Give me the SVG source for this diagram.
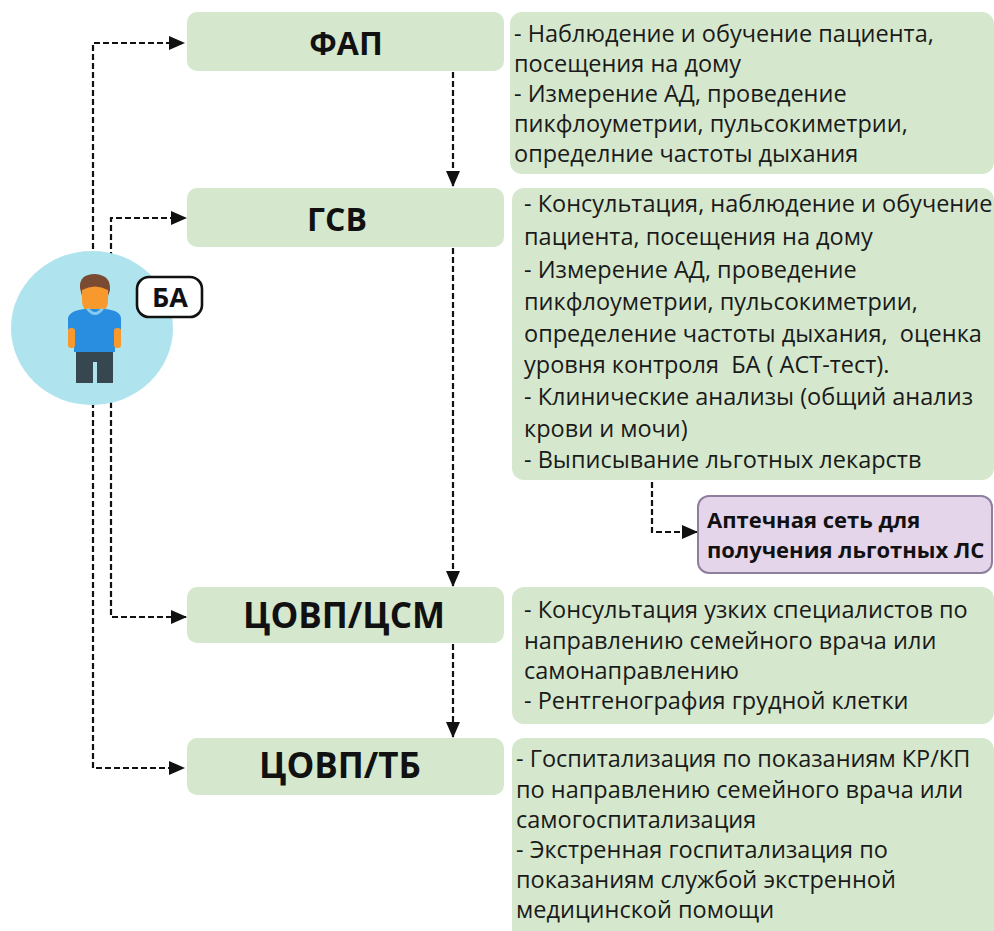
<svg xmlns="http://www.w3.org/2000/svg" width="994" height="931" viewBox="0 0 994 931">
<defs>
<style>
.node{fill:#d5e8cd}
.info{fill:#d5e8cd}
.lbl{font-family:"Open Sans","Noto Sans","DejaVu Sans",sans-serif;font-weight:700;fill:#111;text-anchor:middle}
.txt{font-family:"Open Sans","Noto Sans","DejaVu Sans",sans-serif;font-size:23.5px;fill:#1a1a1a;white-space:pre}
.conn{fill:none;stroke:#111;stroke-width:2.2;stroke-dasharray:6 3;marker-end:url(#arr)}
</style>
<marker id="arr" markerUnits="userSpaceOnUse" markerWidth="16" markerHeight="14" refX="15" refY="7" orient="auto">
<path d="M0,0 L16,7 L0,14 z" fill="#111"/>
</marker>
</defs>
<rect width="994" height="931" fill="#fff"/>
<g id="connectors">
<path class="conn" d="M93,330 V43 H184"/>
<path class="conn" d="M111,330 V218 H186"/>
<path class="conn" d="M93,330 V768 H184"/>
<path class="conn" d="M111,330 V617 H186"/>
<path class="conn" d="M453,72 V186"/>
<path class="conn" d="M453,248 V586"/>
<path class="conn" d="M453,644 V737"/>
<path class="conn" d="M652,482 V532 H697"/>
</g>
<g id="patient">
<ellipse cx="92" cy="328" rx="81" ry="77" fill="#afe4ee"/>
<path d="M80,288 Q79,274 95,274 Q111,275 110,290 L108,296 L82,296 Z" fill="#7b4a32"/>
<path d="M82,290 Q95,283 108,290 L108,300 Q108,313 95,314 Q82,313 82,300 Z" fill="#f7992c"/>
<path d="M68,318 Q70,310 86,309 L104,309 Q120,310 121,318 L121,330 L115,330 L115,352 L74,352 L74,330 L68,330 Z" fill="#2a8ee0"/>
<path d="M86,309 Q95,321 104,309 L101,308 Q95,316 89,308 Z" fill="#85c9ef"/>
<rect x="68" y="328" width="7" height="20" rx="3" fill="#f7992c"/>
<rect x="114" y="328" width="7" height="20" rx="3" fill="#f7992c"/>
<path d="M76,352 H113 V383 H97 V362 H93 V383 H76 Z" fill="#37474f"/>
</g>
<g id="ba-tag">
<rect x="137" y="277" width="65" height="40" rx="12" fill="#fff" stroke="#111" stroke-width="2.6"/>
<text x="170" y="307" class="lbl" font-size="27">БА</text>
</g>
<g id="fap">
<rect class="node" x="187" y="12" width="317" height="59" rx="10"/>
<text x="346" y="55" class="lbl" font-size="32">ФАП</text>
</g>
<g id="gsv">
<rect class="node" x="187" y="188" width="317" height="59" rx="10"/>
<text x="337" y="231" class="lbl" font-size="32">ГСВ</text>
</g>
<g id="covp-csm">
<rect class="node" x="187" y="587" width="317" height="56" rx="10"/>
<text x="344" y="628" class="lbl" font-size="35">ЦОВП/ЦСМ</text>
</g>
<g id="covp-tb">
<rect class="node" x="187" y="738" width="317" height="57" rx="10"/>
<text x="340" y="778" class="lbl" font-size="35">ЦОВП/ТБ</text>
</g>
<g id="info-fap">
<rect class="info" x="510" y="12" width="484" height="162" rx="12"/>
<text class="txt"><tspan x="514" y="42">- Наблюдение и обучение пациента,</tspan><tspan x="514" y="72">посещения на дому</tspan><tspan x="514" y="102">- Измерение АД, проведение</tspan><tspan x="514" y="132">пикфлоуметрии, пульсокиметрии,</tspan><tspan x="514" y="162">определние частоты дыхания</tspan></text>
</g>
<g id="info-gsv">
<rect class="info" x="512" y="188" width="482" height="292" rx="12"/>
<text class="txt"><tspan x="524" y="212">- Консультация, наблюдение и обучение</tspan><tspan x="524" y="245">пациента, посещения на дому</tspan><tspan x="524" y="278">- Измерение АД, проведение</tspan><tspan x="524" y="310">пикфлоуметрии, пульсокиметрии,</tspan><tspan x="524" y="342">определение частоты дыхания,  оценка</tspan><tspan x="524" y="373">уровня контроля  БА ( АСТ-тест).</tspan><tspan x="524" y="405">- Клинические анализы (общий анализ</tspan><tspan x="524" y="437">крови и мочи)</tspan><tspan x="524" y="468">- Выписывание льготных лекарств</tspan></text>
</g>
<g id="pharmacy">
<rect x="698" y="496" width="294" height="77" rx="11" fill="#e4d5eb" stroke="#8f7f9e" stroke-width="2"/>
<text font-family="Open Sans, Noto Sans, DejaVu Sans, sans-serif" font-weight="700" font-size="22" fill="#111"><tspan x="707" y="528">Аптечная сеть для</tspan><tspan x="707" y="558">получения льготных ЛС</tspan></text>
</g>
<g id="info-csm">
<rect class="info" x="512" y="587" width="482" height="137" rx="12"/>
<text class="txt"><tspan x="524" y="618">- Консультация узких специалистов по</tspan><tspan x="524" y="649">направлению семейного врача или</tspan><tspan x="524" y="679">самонаправлению</tspan><tspan x="524" y="709">- Рентгенография грудной клетки</tspan></text>
</g>
<g id="info-tb">
<rect class="info" x="512" y="738" width="482" height="205" rx="12"/>
<text class="txt"><tspan x="516" y="767">- Госпитализация по показаниям КР/КП</tspan><tspan x="516" y="798">по направлению семейного врача или</tspan><tspan x="516" y="828">самогоспитализация</tspan><tspan x="516" y="858">- Экстренная госпитализация по</tspan><tspan x="516" y="888">показаниям службой экстренной</tspan><tspan x="516" y="918">медицинской помощи</tspan></text>
</g>
</svg>
